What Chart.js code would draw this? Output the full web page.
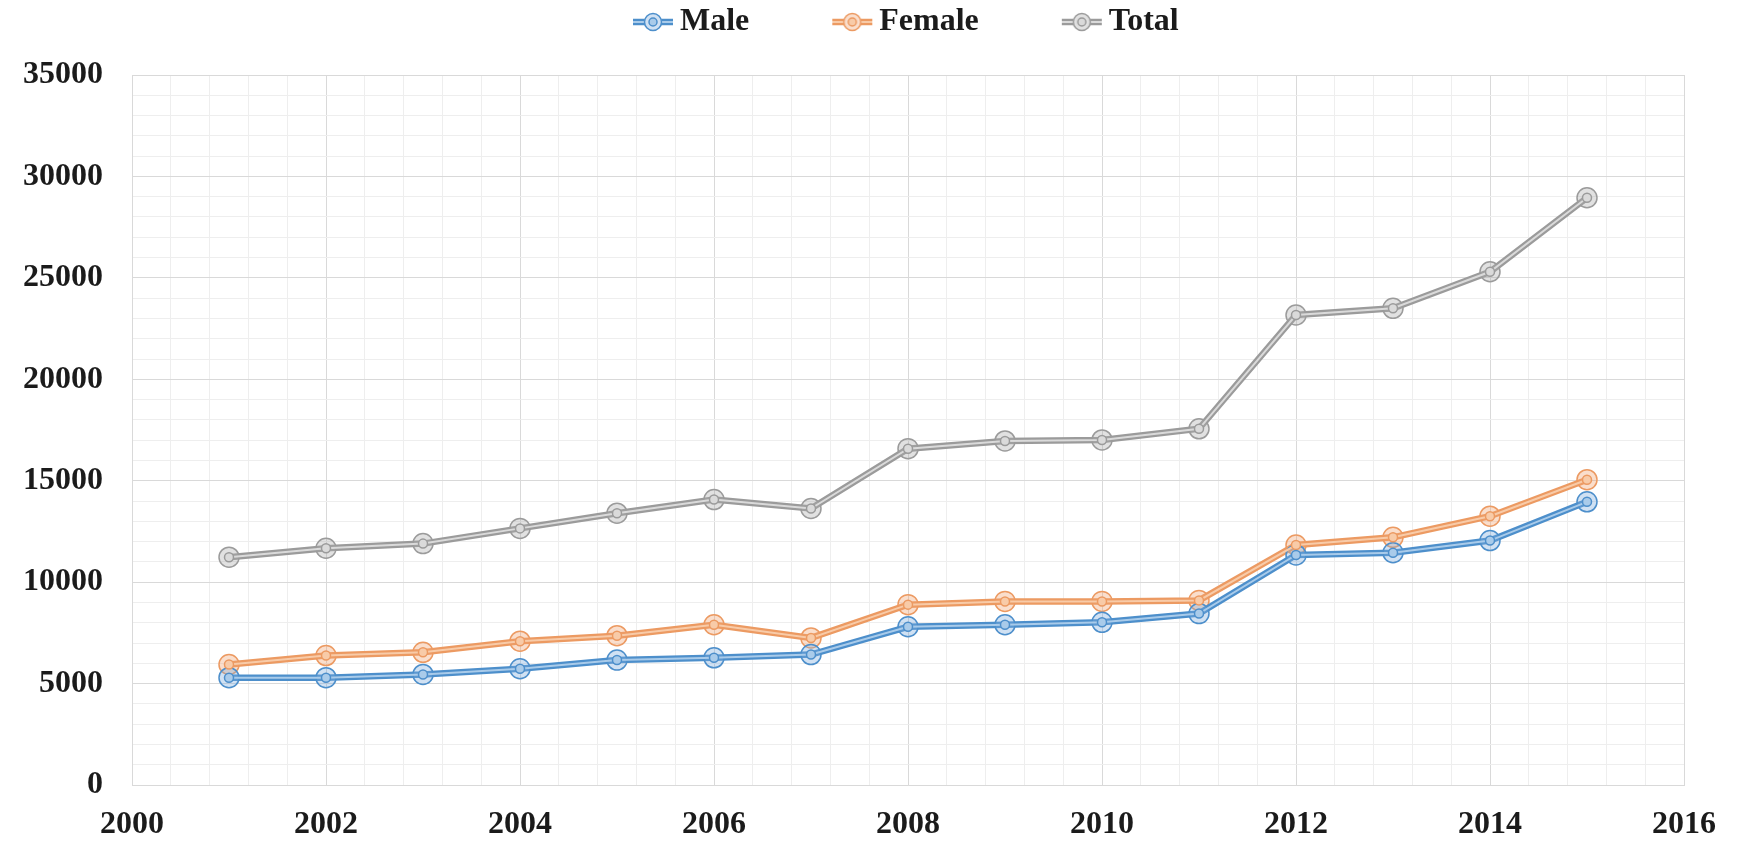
<!DOCTYPE html>
<html>
<head>
<meta charset="utf-8">
<title>Male / Female / Total</title>
<script src="https://cdn.jsdelivr.net/npm/chart.js@4/dist/chart.umd.min.js"></script>
<style>
  html, body { margin: 0; padding: 0; background: #ffffff; }
  #wrap { width: 1737px; height: 843px; }
  canvas { display: block; }
</style>
</head>
<body>
<div id="wrap"><canvas id="chart" width="1737" height="843"></canvas></div>
<script>
// Yearly counts per series
const years  = [2001, 2002, 2003, 2004, 2005, 2006, 2007, 2008, 2009, 2010, 2011, 2012, 2013, 2014, 2015];
const male   = [5290, 5290, 5450, 5730, 6160, 6270, 6430, 7800, 7900, 8020, 8450, 11340, 11450, 12050, 13960];
const female = [5940, 6380, 6540, 7090, 7360, 7900, 7250, 8890, 9050, 9050, 9100, 11830, 12210, 13250, 15050];
const total  = [11230, 11670, 11900, 12650, 13400, 14070, 13630, 16580, 16960, 17010, 17560, 23170, 23500, 25300, 28950];

const seriesNames = ['Male', 'Female', 'Total'];
const seriesData  = [male, female, total];

// Axis ranges and tick steps
const xMin = 2000, xMax = 2016, xMajorStep = 2, xMinorStep = 0.4;
const yMin = 0, yMax = 35000, yMajorStep = 5000, yMinorStep = 1000;

// Styling for each series: outer stroke, light inner stroke, translucent marker fill
const palette = [
  { edge: '#4d8fcb', inner: '#a9cbea', fill: 'rgba(120,170,220,0.35)' },
  { edge: '#ec9a62', inner: '#f8cba8', fill: 'rgba(240,160,110,0.35)' },
  { edge: '#9b9b9b', inner: '#dadada', fill: 'rgba(170,170,170,0.35)' }
];

const FONT_FAMILY = "'Liberation Serif', 'Times New Roman', serif";
const TEXT_COLOR = '#1b1b1b';
const MAJOR_GRID = '#d9d9d9';
const MINOR_GRID = '#eeeeee';

Chart.defaults.font.family = FONT_FAMILY;
Chart.defaults.color = TEXT_COLOR;

function points(values) {
  return years.map((yr, i) => ({ x: yr, y: values[i] }));
}

function isMultiple(v, step) {
  return Math.abs(v / step - Math.round(v / step)) < 1e-6;
}

// Legend icon: compound line with a ringed marker in the middle
function legendIcon(p) {
  const c = document.createElement('canvas');
  c.width = 42; c.height = 24;
  const g = c.getContext('2d');
  g.lineCap = 'butt';
  g.strokeStyle = p.edge; g.lineWidth = 6.5;
  g.beginPath(); g.moveTo(1, 12); g.lineTo(41, 12); g.stroke();
  g.strokeStyle = p.inner; g.lineWidth = 2;
  g.beginPath(); g.moveTo(1, 12); g.lineTo(41, 12); g.stroke();
  g.fillStyle = '#ffffff';
  g.beginPath(); g.arc(21, 12, 8.5, 0, Math.PI * 2); g.fill();
  g.fillStyle = p.fill; g.strokeStyle = p.edge; g.lineWidth = 1.5;
  g.beginPath(); g.arc(21, 12, 8.5, 0, Math.PI * 2); g.fill(); g.stroke();
  g.fillStyle = p.inner;
  g.beginPath(); g.arc(21, 12, 4, 0, Math.PI * 2); g.fill(); g.stroke();
  return c;
}

const datasets = [];
seriesNames.forEach((name, i) => {
  const p = palette[i];
  // wide outer stroke with the large ring marker
  datasets.push({
    label: name,
    data: points(seriesData[i]),
    borderColor: p.edge,
    backgroundColor: p.fill,
    borderWidth: 6.5,
    pointRadius: 10,
    pointBorderWidth: 1.5,
    pointBorderColor: p.edge,
    pointBackgroundColor: p.fill,
    tension: 0,
    order: 2
  });
  // light core stroke with the small inner ring
  datasets.push({
    label: '',
    data: points(seriesData[i]),
    borderColor: p.inner,
    backgroundColor: p.inner,
    borderWidth: 2,
    pointRadius: 4.5,
    pointBorderWidth: 1.5,
    pointBorderColor: p.edge,
    pointBackgroundColor: p.inner,
    tension: 0,
    order: 1
  });
});

const icons = palette.map(legendIcon);

// Legend placement: row centred on the text line at the top, first item starting at LEGEND_X0
const LEGEND_HEIGHT = 75;
const LEGEND_ROW_TOP = 6;
const LEGEND_X0 = 642;

const legendPlacement = {
  id: 'legendPlacement',
  beforeLayout(chart) {
    const lg = chart.legend;
    if (!lg || lg._placed) return;
    lg._placed = true;
    const fit = lg.fit.bind(lg);
    const draw = lg.draw.bind(lg);
    lg.fit = function () {
      fit();
      this.height = LEGEND_HEIGHT;
      this.bottom = this.top + LEGEND_HEIGHT;
    };
    lg.draw = function () {
      const pad = this.options.labels.padding;
      const startX = (this.left + pad + this.right - this.lineWidths[0]) / 2;
      const startY = this.top + pad;
      const savedBottom = this.bottom;
      const ctx = this.ctx;
      ctx.save();
      ctx.translate(LEGEND_X0 - startX, LEGEND_ROW_TOP - startY);
      // extend the legend's own clip box so the lifted row stays inside it
      this.bottom = startY + 60;
      draw();
      this.bottom = savedBottom;
      ctx.restore();
    };
  }
};

new Chart(document.getElementById('chart'), {
  type: 'line',
  data: { datasets },
  plugins: [legendPlacement],
  options: {
    responsive: false,
    animation: false,
    layout: { padding: { top: 0, right: 42, bottom: 0, left: 0 } },
    plugins: {
      tooltip: { enabled: false },
      title: { display: false },
      legend: {
        display: true,
        position: 'top',
        align: 'center',
        labels: {
          usePointStyle: true,
          boxWidth: 22,
          boxHeight: 22,
          padding: 92,
          color: TEXT_COLOR,
          font: { family: FONT_FAMILY, size: 32, weight: 'bold' },
          generateLabels(chart) {
            const base = Chart.defaults.plugins.legend.labels.generateLabels(chart);
            return base
              .filter(item => item.text !== '')
              .map(item => {
                const idx = seriesNames.indexOf(item.text);
                item.pointStyle = icons[idx];
                return item;
              });
          }
        }
      }
    },
    scales: {
      x: {
        type: 'linear',
        min: xMin,
        max: xMax,
        afterFit(scale) { scale.height = 58; },
        ticks: {
          stepSize: xMinorStep,
          autoSkip: false,
          maxRotation: 0,
          minRotation: 0,
          padding: 21,
          color: TEXT_COLOR,
          font: { family: FONT_FAMILY, size: 32, weight: 'bold' },
          callback(value) {
            return isMultiple(value, xMajorStep) ? String(Math.round(value)) : '';
          }
        },
        grid: {
          drawTicks: false,
          lineWidth: 1,
          color(ctx) {
            const v = ctx.tick ? ctx.tick.value : 0;
            return isMultiple(v, xMajorStep) ? MAJOR_GRID : MINOR_GRID;
          }
        },
        border: { display: true, color: MAJOR_GRID, width: 1 }
      },
      y: {
        type: 'linear',
        min: yMin,
        max: yMax,
        afterFit(scale) { scale.width = 132; },
        ticks: {
          stepSize: yMinorStep,
          autoSkip: false,
          padding: 29,
          color: TEXT_COLOR,
          font: { family: FONT_FAMILY, size: 32, weight: 'bold' },
          callback(value) {
            return isMultiple(value, yMajorStep) ? String(Math.round(value)) : '';
          }
        },
        grid: {
          drawTicks: false,
          lineWidth: 1,
          color(ctx) {
            const v = ctx.tick ? ctx.tick.value : 0;
            return isMultiple(v, yMajorStep) ? MAJOR_GRID : MINOR_GRID;
          }
        },
        border: { display: true, color: MAJOR_GRID, width: 1 }
      }
    }
  }
});
</script>
</body>
</html>
